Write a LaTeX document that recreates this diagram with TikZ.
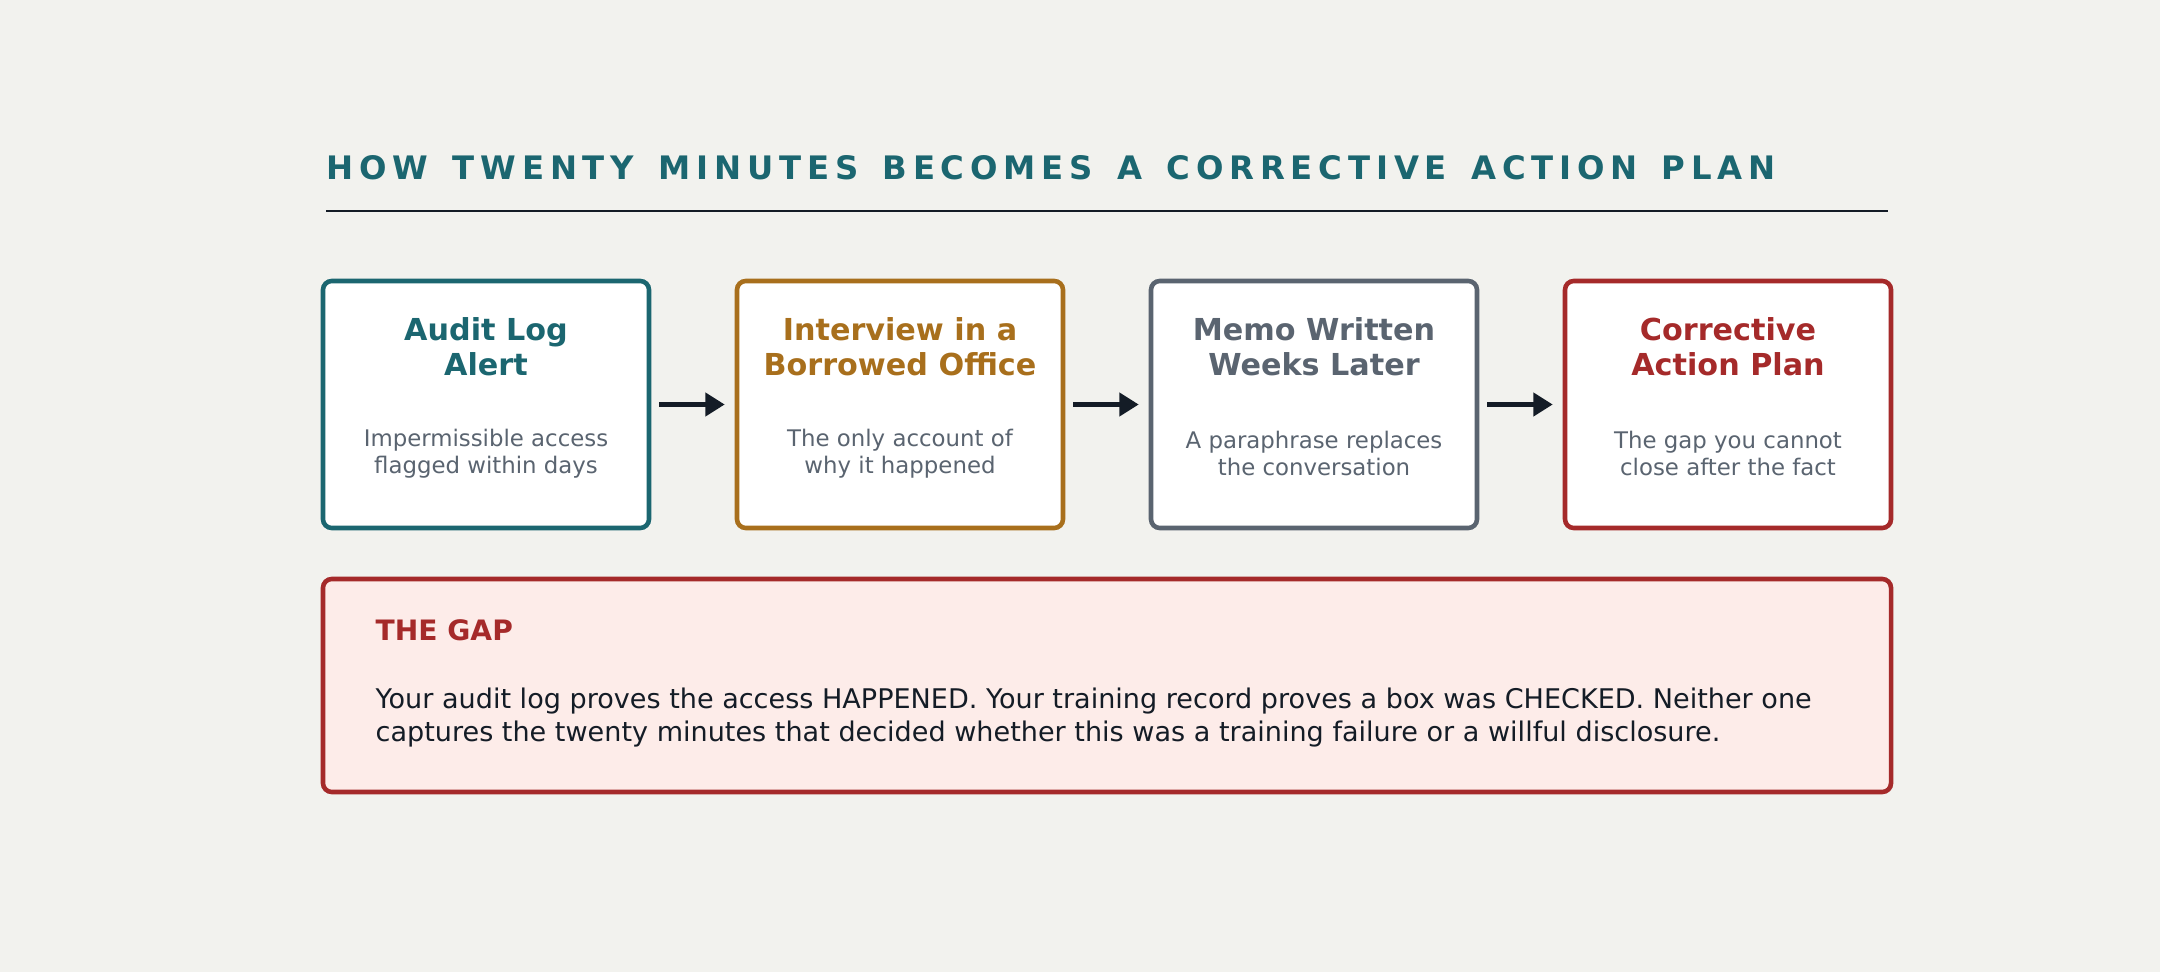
\documentclass[tikz,border=0pt]{standalone}
\usepackage{fontspec}
\setmainfont{DejaVu Sans}
\usetikzlibrary{positioning,arrows.meta}
\definecolor{bgc}{HTML}{F2F2EE}
\definecolor{teal}{HTML}{1B6670}
\definecolor{ochre}{HTML}{A86F1C}
\definecolor{slate}{HTML}{5A6470}
\definecolor{brick}{HTML}{A52A2A}
\definecolor{pinkbg}{HTML}{FDECE9}
\definecolor{ink}{HTML}{141C26}
\newcommand{\wsp}{\hspace{0.75em}}
\tikzset{
  step/.style={draw=#1, line width=1.3pt, fill=white, rounded corners=2.5pt,
    minimum width=3.26cm, minimum height=2.47cm},
  head/.style={text=#1, font=\fontsize{8.6}{10}\selectfont\bfseries, align=center},
  sub/.style={text=slate, font=\fontsize{6.5}{7.6}\selectfont, align=center},
  flow/.style={-{Triangle[length=5.5pt,width=6.5pt]}, line width=1.3pt, draw=ink}
}
\begin{document}
\begin{tikzpicture}
  \useasboundingbox (0,0) rectangle (21.6,9.72);
  \fill[bgc] (0,0) rectangle (21.6,9.72);
  \node[anchor=base west, text=teal, inner sep=0pt,
    font=\fontsize{9.2}{11}\selectfont\bfseries\addfontfeature{LetterSpace=18}]
    (title) at (3.26,7.92) {HOW\wsp TWENTY\wsp MINUTES\wsp BECOMES\wsp A\wsp CORRECTIVE\wsp ACTION\wsp PLAN};
  \coordinate (rl) at (3.26,7.61);
  \coordinate (rr) at (18.88,7.61);
  \draw[ink, line width=0.8pt] (rl) -- (rr);
  % steps
  \node[step=teal] (s1) at (4.86,5.675) {};
  \node[step=ochre] (s2) at (9.00,5.675) {};
  \node[step=slate] (s3) at (13.14,5.675) {};
  \node[step=brick] (s4) at (17.28,5.675) {};
  \foreach \n/\c/\h/\s in {s1/teal/{Audit Log\\Alert}/{Impermissible access\\flagged within days},
      s2/ochre/{Interview in a\\Borrowed Office}/{The only account of\\why it happened},
      s3/slate/{Memo Written\\Weeks Later}/{A paraphrase replaces\\the conversation},
      s4/brick/{Corrective\\Action Plan}/{The gap you cannot\\close after the fact}} {
    \node[head=\c] at ([yshift=-0.68cm]\n.north) {\h};
    \node[sub] at ([yshift=-1.75cm]\n.north) {\s};
  }
  \draw[flow] ([xshift=0.08cm]s1.east) -- ([xshift=-0.1cm]s2.west);
  \draw[flow] ([xshift=0.08cm]s2.east) -- ([xshift=-0.1cm]s3.west);
  \draw[flow] ([xshift=0.08cm]s3.east) -- ([xshift=-0.1cm]s4.west);
  % gap box
  \node[draw=brick, line width=1.3pt, fill=pinkbg, rounded corners=2.5pt,
    minimum width=15.68cm, minimum height=2.13cm] (gap) at (11.07,2.865) {};
  \node[anchor=base west, inner sep=0pt, text=brick, font=\fontsize{8}{9}\selectfont\bfseries]
    (gaphead) at (3.75,3.32) {THE GAP};
  \node[anchor=north west, inner sep=0pt, text=ink, align=left,
    font=\fontsize{7.7}{9.5}\selectfont] (gaptext) at (3.75,2.85)
    {Your audit log proves the access HAPPENED. Your training record proves a box was CHECKED. Neither one\\
     captures the twenty minutes that decided whether this was a training failure or a willful disclosure.};
\end{tikzpicture}
\end{document}
